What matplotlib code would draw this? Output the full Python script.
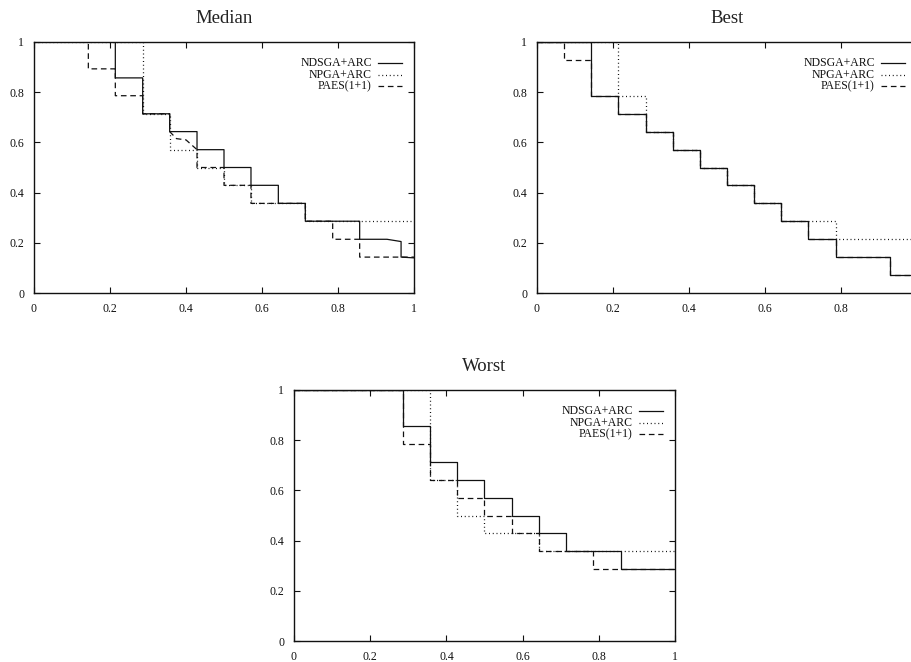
import matplotlib
matplotlib.use("Agg")
import matplotlib.pyplot as plt
from matplotlib.lines import Line2D

plt.rcParams['font.family'] = ['Liberation Serif', 'DejaVu Serif']

series_names = ["NDSGA+ARC", "NPGA+ARC", "PAES(1+1)"]

# ---- Median ----
med_ndsga_x = [0, 0.214, 0.214, 0.286, 0.286, 0.357, 0.357, 0.429, 0.429, 0.5, 0.5, 0.571, 0.571,
               0.643, 0.643, 0.714, 0.714, 0.857, 0.857, 0.929, 0.966, 0.966, 1.0]
med_ndsga_y = [1, 1, 0.857, 0.857, 0.714, 0.714, 0.643, 0.643, 0.571, 0.571, 0.5, 0.5, 0.429,
               0.429, 0.357, 0.357, 0.286, 0.286, 0.214, 0.214, 0.205, 0.143, 0.14]
med_npga_x = [0, 0.286, 0.286, 0.357, 0.357, 0.429, 0.429, 0.5, 0.5, 0.571, 0.571, 0.714, 0.714, 1.0]
med_npga_y = [1, 1, 0.714, 0.714, 0.571, 0.571, 0.5, 0.5, 0.429, 0.429, 0.357, 0.357, 0.286, 0.286]
med_paes_x = [0, 0.143, 0.143, 0.214, 0.214, 0.286, 0.286, 0.357, 0.357, 0.375, 0.40, 0.429, 0.429,
              0.5, 0.5, 0.571, 0.571, 0.714, 0.714, 0.786, 0.786, 0.857, 0.857, 1.0]
med_paes_y = [1, 1, 0.893, 0.893, 0.786, 0.786, 0.714, 0.714, 0.643, 0.615, 0.61, 0.571, 0.5,
              0.5, 0.429, 0.429, 0.357, 0.357, 0.286, 0.286, 0.214, 0.214, 0.143, 0.143]

# ---- Best ----
best_ndsga_x = [0, 0.143, 0.143, 0.214, 0.214, 0.286, 0.286, 0.357, 0.357, 0.429, 0.429, 0.5, 0.5,
                0.571, 0.571, 0.643, 0.643, 0.714, 0.714, 0.786, 0.786, 0.929, 0.929, 1.0]
best_ndsga_y = [1, 1, 0.786, 0.786, 0.714, 0.714, 0.643, 0.643, 0.571, 0.571, 0.5, 0.5, 0.429,
                0.429, 0.357, 0.357, 0.286, 0.286, 0.214, 0.214, 0.143, 0.143, 0.071, 0.071]
best_npga_x = [0, 0.214, 0.214, 0.286, 0.286, 0.357, 0.357, 0.429, 0.429, 0.5, 0.5, 0.571, 0.571,
               0.643, 0.643, 0.786, 0.786, 1.0]
best_npga_y = [1, 1, 0.786, 0.786, 0.643, 0.643, 0.571, 0.571, 0.5, 0.5, 0.429, 0.429, 0.357,
               0.357, 0.286, 0.286, 0.214, 0.214]
best_paes_x = [0, 0.071, 0.071, 0.143, 0.143, 0.214, 0.214, 0.286, 0.286, 0.357, 0.357, 0.429, 0.429,
               0.5, 0.5, 0.571, 0.571, 0.643, 0.643, 0.714, 0.714, 0.786, 0.786, 0.929, 0.929, 1.0]
best_paes_y = [1, 1, 0.929, 0.929, 0.786, 0.786, 0.714, 0.714, 0.643, 0.643, 0.571, 0.571, 0.5,
               0.5, 0.429, 0.429, 0.357, 0.357, 0.286, 0.286, 0.214, 0.214, 0.143, 0.143, 0.071, 0.071]

# ---- Worst ----
worst_ndsga_x = [0, 0.286, 0.286, 0.357, 0.357, 0.429, 0.429, 0.5, 0.5, 0.571, 0.571, 0.643, 0.643,
                 0.714, 0.714, 0.857, 0.857, 1.0]
worst_ndsga_y = [1, 1, 0.857, 0.857, 0.714, 0.714, 0.643, 0.643, 0.571, 0.571, 0.5, 0.5, 0.429,
                 0.429, 0.357, 0.357, 0.286, 0.286]
worst_npga_x = [0, 0.357, 0.357, 0.429, 0.429, 0.5, 0.5, 0.643, 0.643, 1.0]
worst_npga_y = [1, 1, 0.643, 0.643, 0.5, 0.5, 0.429, 0.429, 0.357, 0.357]
worst_paes_x = [0, 0.286, 0.286, 0.357, 0.357, 0.429, 0.429, 0.5, 0.5, 0.571, 0.571, 0.643, 0.643,
                0.786, 0.786, 1.0]
worst_paes_y = [1, 1, 0.786, 0.786, 0.643, 0.643, 0.571, 0.571, 0.5, 0.5, 0.429, 0.429, 0.357,
                0.357, 0.286, 0.286]

ticks = [0, 0.2, 0.4, 0.6, 0.8, 1]
tick_labels = ["0", "0.2", "0.4", "0.6", "0.8", "1"]

styles = [
    dict(color="#111111", lw=0.9, linestyle="-"),
    dict(color="#111111", lw=0.9, linestyle=(0, (0.8, 2.2))),
    dict(color="#111111", lw=0.9, linestyle=(0, (4.5, 3.0))),
]

W, H = 912, 662
fig = plt.figure(figsize=(W / 100, H / 100), dpi=100)


def make_axes(left_px, top_px, w_px, h_px):
    return fig.add_axes([left_px / W, (H - top_px - h_px) / H, w_px / W, h_px / H])


def setup(ax, title, data, hide_last_xlabel=False):
    for (xs, ys), st, name in zip(data, styles, series_names):
        ax.plot(xs, ys, **st)
    ax.set_xlim(0, 1)
    ax.set_ylim(0, 1)
    ax.set_xticks(ticks)
    ax.set_xticklabels(tick_labels)
    ax.set_yticks(ticks)
    ax.set_yticklabels(tick_labels)
    ax.tick_params(direction="in", length=4, width=0.8, top=True, right=True,
                   labelsize=8.5, pad=7, colors="#111111")
    if hide_last_xlabel:
        ax.get_xticklabels()[-1].set_visible(False)
    for s in ax.spines.values():
        s.set_linewidth(1.0)
        s.set_color("#111111")
    ax.set_title(title, fontsize=13.5, pad=14, color="#222222")
    # legend, gnuplot style (text then line sample)
    ys_leg = [0.917, 0.870, 0.823]
    for yl, st, name in zip(ys_leg, styles, series_names):
        ax.text(0.889, yl, name, transform=ax.transAxes, ha="right", va="center",
                fontsize=8.5, color="#111111")
        ax.add_line(Line2D([0.906, 0.968], [yl, yl], transform=ax.transAxes, **st))


ax1 = make_axes(34, 42, 380, 251)
setup(ax1, "Median", [(med_ndsga_x, med_ndsga_y), (med_npga_x, med_npga_y), (med_paes_x, med_paes_y)])

ax2 = make_axes(537, 42, 380, 251)
setup(ax2, "Best", [(best_ndsga_x, best_ndsga_y), (best_npga_x, best_npga_y), (best_paes_x, best_paes_y)],
      hide_last_xlabel=True)

ax3 = make_axes(294, 390, 381, 251)
setup(ax3, "Worst", [(worst_ndsga_x, worst_ndsga_y), (worst_npga_x, worst_npga_y), (worst_paes_x, worst_paes_y)])

fig.savefig("out.png", dpi=100)
